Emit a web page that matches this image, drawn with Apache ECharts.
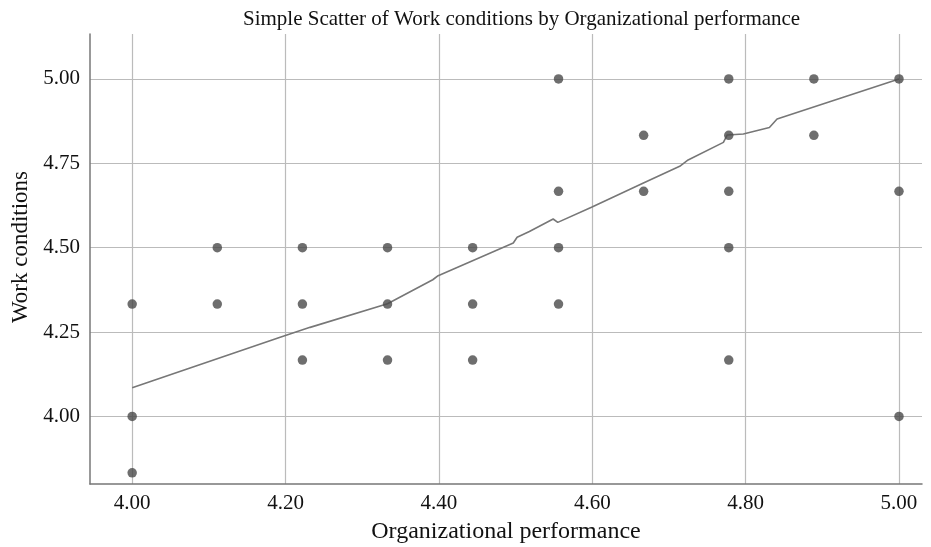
<!DOCTYPE html>
<html>
<head>
<meta charset="utf-8">
<script src="https://cdn.jsdelivr.net/npm/echarts@6/dist/echarts.min.js"></script>
<style>
  html, body { margin: 0; padding: 0; background: #fff; }
  #chart { width: 931px; height: 547px; }
</style>
</head>
<body>
<div id="chart"></div>
<script>
// observed cases (organizational performance, work conditions)
const perfValues = [
  4.000, 4.000, 4.000,
  4.111, 4.111,
  4.222, 4.222, 4.222,
  4.333, 4.333, 4.333,
  4.444, 4.444, 4.444,
  4.556, 4.556, 4.556, 4.556,
  4.667, 4.667,
  4.778, 4.778, 4.778, 4.778, 4.778,
  4.889, 4.889,
  5.000, 5.000, 5.000
]
const workValues = [
  4.333, 4.000, 3.833,
  4.500, 4.333,
  4.500, 4.333, 4.167,
  4.500, 4.333, 4.167,
  4.500, 4.333, 4.167,
  5.000, 4.667, 4.500, 4.333,
  4.833, 4.667,
  5.000, 4.833, 4.667, 4.500, 4.167,
  5.000, 4.833,
  5.000, 4.667, 4.000
]

// fit line
const fitX = [4.000, 4.193, 4.232, 4.333, 4.392, 4.399, 4.497, 4.502, 4.518, 4.549, 4.555,
  4.599, 4.666, 4.714, 4.725, 4.771, 4.776, 4.797, 4.831, 4.841, 5.000]
const fitY = [4.085, 4.235, 4.264, 4.334, 4.405, 4.417, 4.514, 4.531, 4.548, 4.585, 4.575,
  4.620, 4.691, 4.741, 4.760, 4.812, 4.834, 4.837, 4.856, 4.881, 5.000]

const xTicks = [4.0, 4.2, 4.4, 4.6, 4.8, 5.0]
const yTicks = [4.0, 4.25, 4.5, 4.75, 5.0]

const serif = '"Liberation Serif", "DejaVu Serif", serif'

const chart = echarts.init(document.getElementById('chart'))

chart.setOption({
  animation: false,
  backgroundColor: '#fff',
  title: {
    text: 'Simple Scatter of Work conditions by Organizational performance',
    left: 238,
    top: 4,
    textStyle: { fontFamily: serif, fontSize: 21, fontWeight: 'normal', color: '#111' }
  },
  grid: { left: 90, top: 34, right: 9, bottom: 63, outerBoundsMode: 'none' },
  xAxis: {
    type: 'value',
    min: 3.945,
    max: 5.03,
    name: 'Organizational performance',
    nameLocation: 'middle',
    nameGap: 36,
    nameTextStyle: { fontFamily: serif, fontSize: 24, color: '#111' },
    axisLine: { show: true, onZero: false, lineStyle: { color: '#777', width: 1.5 } },
    axisTick: { show: false, customValues: xTicks },
    axisLabel: {
      customValues: xTicks,
      formatter: v => v.toFixed(2),
      fontFamily: serif, fontSize: 21, color: '#111', margin: 9
    },
    splitLine: { show: true, lineStyle: { color: '#bbb', width: 1.2 } }
  },
  yAxis: {
    type: 'value',
    min: 3.80,
    max: 5.133,
    name: 'Work conditions',
    nameLocation: 'middle',
    nameGap: 57,
    nameTextStyle: { fontFamily: serif, fontSize: 23, color: '#111', padding: [0, 0, 0, 24] },
    axisLine: { show: true, onZero: false, lineStyle: { color: '#777', width: 1.5 } },
    axisTick: { show: false, customValues: yTicks },
    axisLabel: {
      customValues: yTicks,
      formatter: v => v.toFixed(2),
      fontFamily: serif, fontSize: 21, color: '#111', margin: 10
    },
    splitLine: { show: true, lineStyle: { color: '#bbb', width: 1.2 } }
  },
  series: [
    {
      type: 'scatter',
      symbolSize: 9.5,
      itemStyle: { color: '#4a4a4a' },
      data: perfValues.map((x, i) => [x, workValues[i]]),
      z: 3
    },
    {
      type: 'line',
      showSymbol: false,
      symbol: 'none',
      lineStyle: { color: '#777', width: 1.6 },
      data: fitX.map((x, i) => [x, fitY[i]]),
      z: 2
    }
  ]
})
</script>
</body>
</html>
